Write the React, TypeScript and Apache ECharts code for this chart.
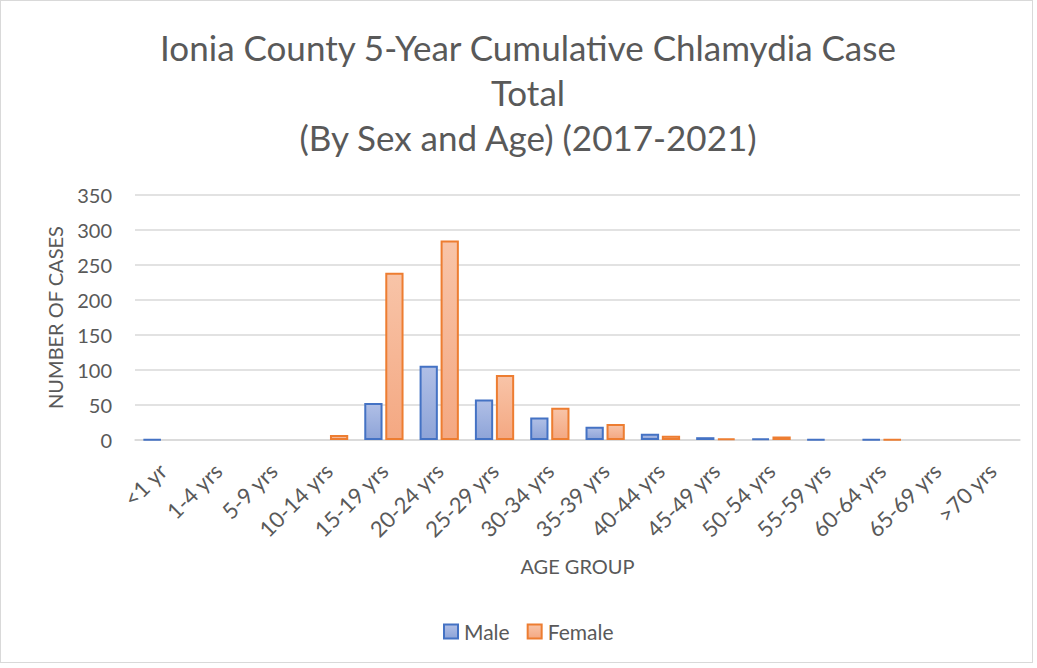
import React, { useEffect, useRef } from "react";
import * as echarts from "echarts";

const categories = ["<1 yr", "1-4 yrs", "5-9 yrs", "10-14 yrs", "15-19 yrs", "20-24 yrs", "25-29 yrs", "30-34 yrs", "35-39 yrs", "40-44 yrs", "45-49 yrs", "50-54 yrs", "55-59 yrs", "60-64 yrs", "65-69 yrs", ">70 yrs"];
const maleValues = [1, 0, 0, 0, 53, 106, 58, 32, 19, 9, 4, 2, 1, 1, 0, 0];
const femaleValues = [0, 0, 0, 7, 239, 285, 93, 46, 23, 6, 2, 5, 0, 1, 0, 0];
const titleText = "Ionia County 5-Year Cumulative Chlamydia Case\nTotal\n(By Sex and Age) (2017-2021)";

const FONT = "Lato";
const TXT = "#595959";

// zero-valued cells are not drawn (no visible outline in the reference)
const hideZero = (arr: number[]) => arr.map((v) => (v === 0 ? null : v));

export default function App() {
  const ref = useRef<HTMLDivElement>(null);
  useEffect(() => {
    const chart = echarts.init(ref.current!, null, { renderer: "svg" });
    chart.setOption({
      animation: false,
      backgroundColor: "#ffffff",
      textStyle: { fontFamily: FONT },
      title: {
        text: titleText,
        left: 527,
        textAlign: "center",
        top: 23,
        padding: 0,
        textStyle: { fontFamily: FONT, fontSize: 35, fontWeight: "normal", color: TXT, lineHeight: 45 },
      },
      legend: {
        top: 620,
        left: 442,
        padding: 0,
        itemWidth: 14,
        itemHeight: 14,
        itemGap: 17,
        icon: "rect",
        textStyle: { fontFamily: FONT, fontSize: 21, color: TXT, padding: [0, 0, 0, 1] },
        data: ["Male", "Female"],
      },
      grid: { left: 134, right: 12, top: 194, bottom: 222 },
      xAxis: {
        type: "category",
        data: categories,
        name: "AGE GROUP",
        nameLocation: "middle",
        nameGap: 116,
        nameTextStyle: { fontFamily: FONT, fontSize: 20, color: TXT },
        axisLine: { lineStyle: { color: "#d9d9d9", width: 1.5 } },
        axisTick: { show: false },
        axisLabel: { rotate: 45, fontFamily: FONT, fontSize: 22, color: TXT, margin: 27, interval: 0 },
      },
      yAxis: {
        type: "value",
        min: 0,
        max: 350,
        interval: 50,
        name: "NUMBER OF CASES",
        nameLocation: "middle",
        nameGap: 70,
        nameTextStyle: { fontFamily: FONT, fontSize: 20, color: TXT },
        axisLine: { show: false },
        axisTick: { show: false },
        axisLabel: { fontFamily: FONT, fontSize: 20, color: TXT, margin: 23 },
        splitLine: { lineStyle: { color: "#d9d9d9", width: 1.5 } },
      },
      series: [
        {
          name: "Male",
          type: "bar",
          data: hideZero(maleValues),
          barGap: "15%",
          barCategoryGap: "29%",
          itemStyle: {
            color: new echarts.graphic.LinearGradient(0, 0, 0, 1, [
              { offset: 0, color: "#b0bfe6" },
              { offset: 1, color: "#8ea4d8" },
            ]),
            borderColor: "#4472c4",
            borderWidth: 2,
          },
        },
        {
          name: "Female",
          type: "bar",
          data: hideZero(femaleValues),
          itemStyle: {
            color: new echarts.graphic.LinearGradient(0, 0, 0, 1, [
              { offset: 0, color: "#f8c4a8" },
              { offset: 1, color: "#f4a882" },
            ]),
            borderColor: "#ed7d31",
            borderWidth: 2,
          },
        },
      ],
    });
    return () => chart.dispose();
  }, []);
  return (
    <div style={{ position: "fixed", left: 0, top: 0, width: 1037, height: 668, background: "#fff" }}>
      <div
        ref={ref}
        style={{ position: "absolute", left: 0, top: 0, width: 1031, height: 661, border: "1px solid #d9d9d9" }}
      />
    </div>
  );
}
